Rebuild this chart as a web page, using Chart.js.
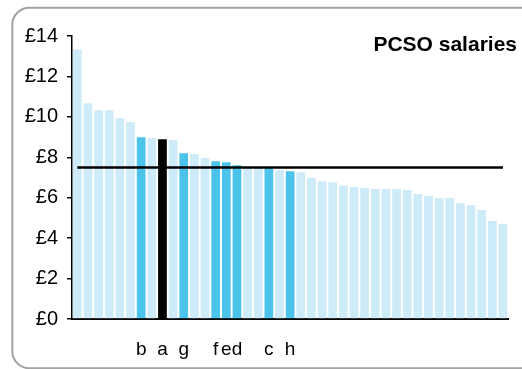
<!DOCTYPE html>
<html>
<head>
<meta charset="utf-8">
<script src="https://cdn.jsdelivr.net/npm/chart.js@4"></script>
<style>
  html, body { margin: 0; padding: 0; background: #fff; }
  #wrap { width: 522px; height: 369px; position: relative; }
</style>
</head>
<body>
<div id="wrap"><canvas id="salaryCanvas"></canvas></div>
<script>
// hourly pay per force, sorted high to low; letters mark the named forces
const forceLabels = ["", "", "", "", "", "", "b", "", "a", "", "g", "", "", "f", "e", "d", "", "", "c", "", "h",
  "", "", "", "", "", "", "", "", "", "", "", "", "", "", "", "", "", "", "", ""];
const salaries = [13.33, 10.67, 10.33, 10.33, 9.93, 9.73, 8.99, 8.94, 8.89, 8.85, 8.2, 8.15, 7.96, 7.8, 7.75, 7.61,
  7.52, 7.51, 7.5, 7.36, 7.31, 7.26, 6.97, 6.82, 6.77, 6.59, 6.53, 6.48, 6.43, 6.43, 6.43, 6.38, 6.18, 6.08,
  5.98, 5.98, 5.73, 5.63, 5.39, 4.85, 4.7];
const averageSalary = 7.5;
const highlightForce = "a";
const yTicks = [0, 2, 4, 6, 8, 10, 12, 14];
const chartTitle = "PCSO salaries";

const lightBlue = "#cdebf8";
const midBlue = "#4bc3eb";

const barColours = forceLabels.map(function (l) {
  if (l === highlightForce) return "#000000";
  if (l !== "") return midBlue;
  return lightBlue;
});

const framePlugin = {
  id: "frame",
  beforeDraw(chart) {
    const c = chart.ctx;
    c.save();
    c.strokeStyle = "#a3a3a3";
    c.lineWidth = 2;
    c.beginPath();
    c.roundRect(12.3, 7.7, 530, 360.6, 17);
    c.stroke();
    c.restore();
  },
  afterDraw(chart) {
    const c = chart.ctx;
    c.save();
    c.fillStyle = "#000";
    c.font = "bold 21px 'Liberation Sans', Arial, sans-serif";
    c.textAlign = "right";
    c.textBaseline = "alphabetic";
    c.fillText(chartTitle, 517, 51);
    c.restore();
  }
};

const ctx = document.getElementById("salaryCanvas").getContext("2d");

new Chart(ctx, {
  type: "bar",
  data: {
    labels: forceLabels,
    datasets: [{
      type: "line",
      data: forceLabels.map(() => averageSalary),
      borderColor: "#000",
      borderWidth: 2.5,
      pointRadius: 0,
      fill: false,
      order: 0
    }, {
      data: salaries,
      backgroundColor: barColours,
      borderWidth: 0,
      barPercentage: 1,
      categoryPercentage: 0.82,
      order: 1
    }]
  },
  options: {
    responsive: true,
    maintainAspectRatio: false,
    animation: false,
    layout: { padding: { top: 36, right: 1, left: 0, bottom: 0 } },
    plugins: {
      legend: { display: false },
      tooltip: { enabled: false }
    },
    scales: {
      x: {
        grid: { display: true, drawOnChartArea: false, drawTicks: false },
        border: { color: "#000", width: 2 },
        ticks: {
          autoSkip: false,
          maxRotation: 0,
          padding: 19,
          color: "#000",
          font: { family: "'Liberation Sans', Arial, sans-serif", size: 19 }
        },
        afterFit(s) { s.height = 50; }
      },
      y: {
        min: 0,
        max: 14,
        afterBuildTicks(s) { s.ticks = yTicks.map(v => ({ value: v })); },
        grid: { drawOnChartArea: false, tickLength: 5, color: "#000", lineWidth: 1.5 },
        border: { color: "#000", width: 1.5 },
        ticks: {
          padding: 9,
          color: "#000",
          font: { family: "'Liberation Sans', Arial, sans-serif", size: 20 },
          callback: v => "£" + v
        },
        afterFit(s) { s.width = 72; }
      }
    }
  },
  plugins: [framePlugin]
});
</script>
</body>
</html>
